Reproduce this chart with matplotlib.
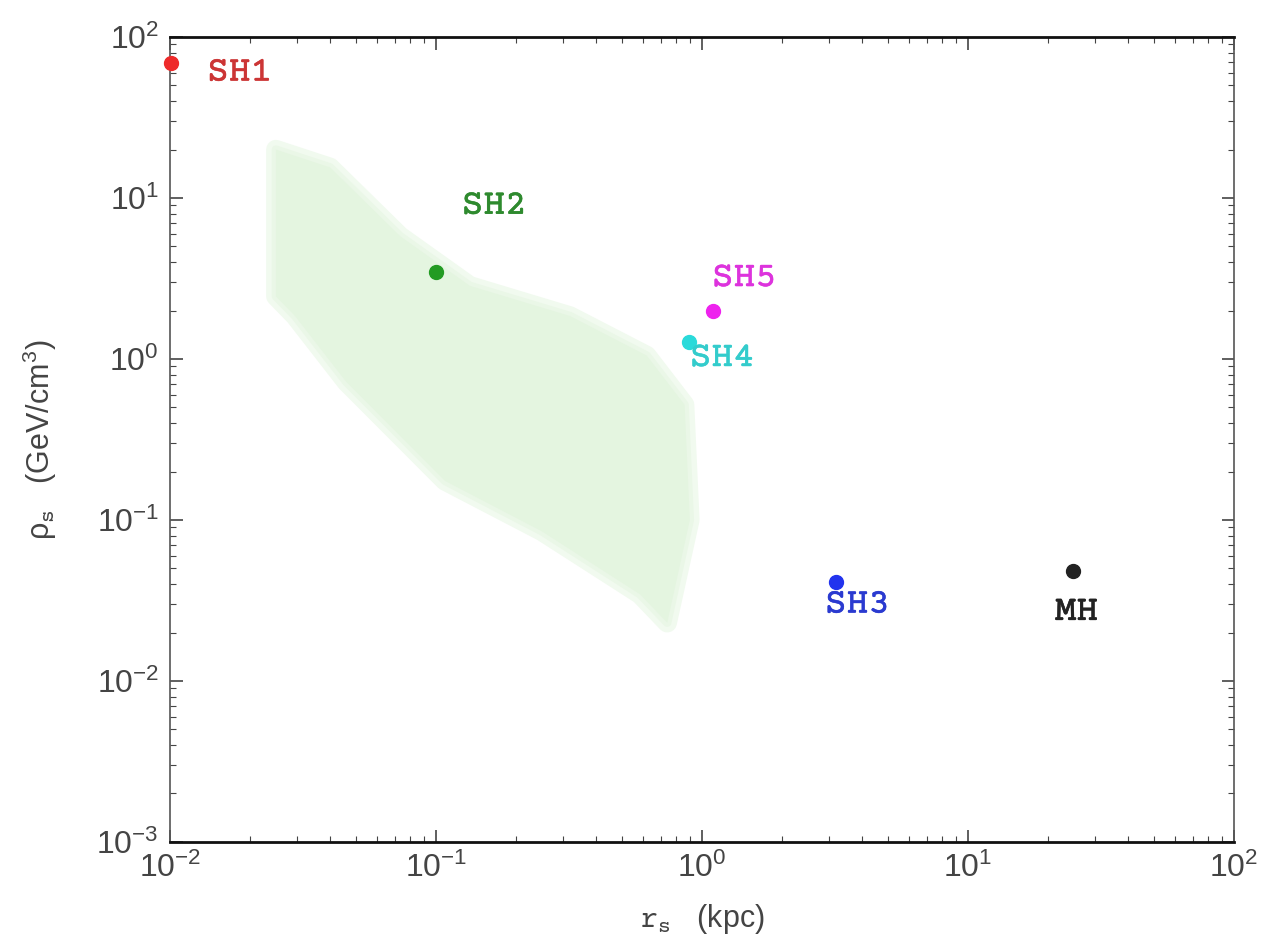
import numpy as np
import matplotlib
matplotlib.use("Agg")
import matplotlib.pyplot as plt
import matplotlib.patheffects as pe
from matplotlib.ticker import LogLocator

# Halo parameters (r_s in kpc, rho_s in GeV/cm^3)
halo_names = ["SH1", "SH2", "SH5", "SH4", "SH3", "MH"]
halo_r = [0.0101, 0.100, 1.10, 0.89, 3.19, 24.8]
halo_rho = [69.0, 3.47, 2.00, 1.28, 0.041, 0.048]
halo_colors = ["#ee2a2a", "#239b23", "#ee22ee", "#2adada", "#2233ee", "#222222"]
label_colors = ["#cc3535", "#2e8a2e", "#dd33dd", "#33cccc", "#2a3ad0", "#222222"]
label_r = [0.0138, 0.125, 1.09, 0.90, 2.90, 21.2]
label_rho = [60.5, 9.0, 3.2, 1.02, 0.030, 0.027]

# Outline of the shaded (allowed) region
band_r = [0.0250, 0.040, 0.0733, 0.134, 0.319, 0.620, 0.86, 0.90, 0.740,
          0.585, 0.250, 0.108, 0.046, 0.0295, 0.0250]
band_rho = [20.0, 15.5, 5.8, 2.85, 1.85, 1.05, 0.52, 0.10, 0.0230,
            0.0345, 0.085, 0.175, 0.72, 1.85, 2.45]

plt.rcParams["font.family"] = ["Liberation Sans", "DejaVu Sans"]
plt.rcParams["mathtext.fontset"] = "custom"
plt.rcParams["mathtext.rm"] = "Liberation Sans"
plt.rcParams["mathtext.it"] = "Liberation Sans:italic"
plt.rcParams["mathtext.tt"] = "Courier Prime"

fig = plt.figure(figsize=(12.64, 9.40), dpi=100)
ax = fig.add_axes([0.1345, 0.1043, 0.8418, 0.8563])

# soft-edged green band
ax.fill(band_r, band_rho, facecolor="none", edgecolor="#f1faef", lw=14,
        joinstyle="round", zorder=1)
ax.fill(band_r, band_rho, facecolor="none", edgecolor="#eaf7e7", lw=6,
        joinstyle="round", zorder=1)
ax.fill(band_r, band_rho, color="#e4f5e0", lw=0, zorder=1)

for r, rho, c in zip(halo_r, halo_rho, halo_colors):
    ax.plot(r, rho, "o", color=c, markersize=10, zorder=3, clip_on=False)

for name, r, rho, c in zip(halo_names, label_r, label_rho, label_colors):
    ax.text(r, rho, name, color=c, fontsize=26, family="Courier Prime",
            ha="left", va="center", zorder=4,
            path_effects=[pe.withStroke(linewidth=0.4, foreground=c)])

ax.set_xscale("log")
ax.set_yscale("log")
ax.set_xlim(1e-2, 1e2)
ax.set_ylim(1e-3, 1e2)
ax.xaxis.set_major_locator(LogLocator(base=10, numticks=10))
ax.yaxis.set_major_locator(LogLocator(base=10, numticks=10))
ax.xaxis.set_minor_locator(LogLocator(base=10, subs=np.arange(2, 10), numticks=20))
ax.yaxis.set_minor_locator(LogLocator(base=10, subs=np.arange(2, 10), numticks=20))

ax.tick_params(which="both", direction="in", top=True, right=True,
               color="#444444", labelcolor="#444444", labelsize=23)
ax.tick_params(which="major", length=9, width=1.2, pad=8)
ax.tick_params(which="minor", length=4, width=0.8)

for side in ["top", "bottom"]:
    ax.spines[side].set_linewidth(2.0)
    ax.spines[side].set_color("#111111")
for side in ["left", "right"]:
    ax.spines[side].set_linewidth(1.2)
    ax.spines[side].set_color("#555555")

ax.set_xlabel(r"$\mathtt{r}_{\mathtt{s}}$   (kpc)", fontsize=22, color="#444444")
ax.xaxis.set_label_coords(0.5, -0.074)
ax.set_ylabel(r"$\mathrm{\rho}_{\mathtt{s}}$   (GeV/cm$^{3}$)", fontsize=22, color="#444444")
ax.yaxis.set_label_coords(-0.104, 0.5)

fig.savefig("out.png", dpi=100)
